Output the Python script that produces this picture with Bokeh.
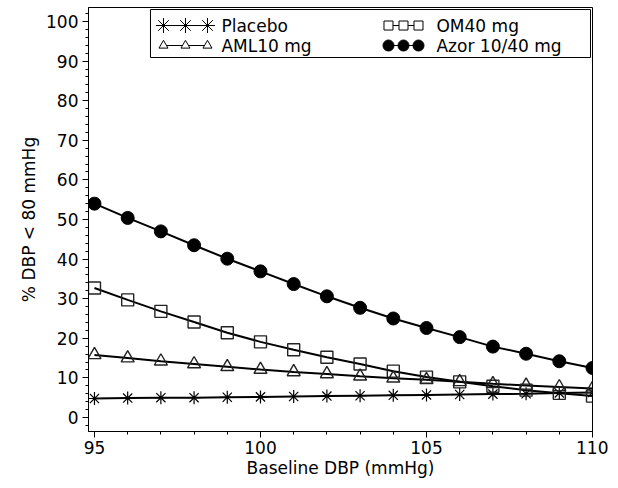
from bokeh.plotting import figure
from bokeh.models import Range1d, SingleIntervalTicker
from bokeh.embed import file_html
from bokeh.resources import INLINE
from bokeh.core.properties import value

# ---- data ----
baseline = [95, 96, 97, 98, 99, 100, 101, 102, 103, 104, 105, 106, 107, 108, 109, 110]
placebo = [4.8, 4.9, 5.0, 5.0, 5.1, 5.2, 5.3, 5.4, 5.5, 5.6, 5.7, 5.8, 5.9, 6.0, 6.2, 6.3]
om40 = [32.7, 29.7, 26.8, 24.1, 21.4, 19.1, 17.1, 15.2, 13.5, 11.7, 10.2, 9.0, 7.9, 6.9, 6.1, 5.4]
aml10 = [15.8, 15.0, 14.2, 13.5, 12.8, 12.1, 11.5, 11.0, 10.4, 9.9, 9.5, 9.0, 8.5, 8.1, 7.7, 7.3]
azor = [54.0, 50.4, 47.0, 43.5, 40.1, 36.9, 33.7, 30.6, 27.7, 25.0, 22.6, 20.3, 17.9, 16.1, 14.2, 12.5]
series_names = ["Placebo", "OM40 mg", "AML10 mg", "Azor 10/40 mg"]
x_label = "Baseline DBP (mmHg)"
y_label = "% DBP < 80 mmHg"

FONT = "DejaVu Sans"

p = figure(width=608, height=480, output_backend="svg", toolbar_location=None,
           x_range=Range1d(94.82, 110), y_range=Range1d(-3.54, 103.54),
           min_border_left=88, min_border_right=16, min_border_top=7,
           min_border_bottom=49)
p.grid.visible = False
p.outline_line_color = "black"
p.outline_line_width = 1
p.background_fill_color = "white"
p.border_fill_color = "white"

p.xaxis.ticker = SingleIntervalTicker(interval=5, num_minor_ticks=5)
p.yaxis.ticker = SingleIntervalTicker(interval=10, num_minor_ticks=5)
for ax in (p.xaxis[0], p.yaxis[0]):
    ax.major_tick_in = 0
    ax.major_tick_out = 6
    ax.minor_tick_in = 0
    ax.minor_tick_out = 3
    ax.axis_line_color = "black"
    ax.major_tick_line_color = "black"
    ax.minor_tick_line_color = "black"
    ax.major_label_text_font = FONT
    ax.major_label_text_font_size = "17px"
    ax.major_label_text_color = "black"
    ax.axis_label_text_font = FONT
    ax.axis_label_text_font_size = "17px"
    ax.axis_label_text_font_style = "normal"
    ax.axis_label_text_color = "black"
p.xaxis.axis_label = x_label
p.yaxis.axis_label = y_label
p.xaxis.major_label_standoff = 3
p.xaxis.axis_label_standoff = 1
p.yaxis.major_label_standoff = 4
p.yaxis.axis_label_standoff = 4

# ---- series ----
LW = 2
p.line(baseline, placebo, line_color="black", line_width=LW)
p.line(baseline, om40, line_color="black", line_width=LW)
p.line(baseline, aml10, line_color="black", line_width=LW)
p.line(baseline, azor, line_color="black", line_width=LW)

p.scatter(baseline, placebo, marker="asterisk", size=13, line_color="black", line_width=1.2)
p.scatter(baseline, om40, marker="square", size=12, fill_color=None, line_color="#222222", line_width=1.4)
p.scatter(baseline, aml10, marker="triangle", size=13, fill_color=None, line_color="#222222", line_width=1.4)
p.scatter(baseline, azor, marker="circle", size=13, fill_color="black", line_color="black")

# ---- legend (drawn inside plot, positions given in screen pixels) ----
X0, XPX0, XS = 95.0, 94.0, 33.2
YPX0, YS = 417.0, 3.96
def dx(px):
    return X0 + (px - XPX0) / XS
def dy(py):
    return (YPX0 - py) / YS

p.quad(left=[dx(150)], right=[dx(590)], top=[dy(9)], bottom=[dy(57)],
       fill_color="white", line_color="black", line_width=1)

row1, row2 = dy(25), dy(45)
lcol = [dx(163), dx(185), dx(207)]
rcol = [dx(388), dx(403), dx(418)]

p.line([lcol[0], lcol[-1]], [row1, row1], line_color="black", line_width=1)
p.scatter(lcol, [row1] * 3, marker="asterisk", size=15, line_color="black", line_width=1)
p.line([lcol[0], lcol[-1]], [row2, row2], line_color="black", line_width=1)
p.scatter(lcol, [row2] * 3, marker="triangle", size=9, fill_color="white", line_color="black", line_width=1)
p.line([rcol[0], rcol[-1]], [row1, row1], line_color="black", line_width=1)
p.scatter(rcol, [row1] * 3, marker="square", size=9, fill_color="white", line_color="black", line_width=1)
p.line([rcol[0], rcol[-1]], [row2, row2], line_color="black", line_width=1)
p.scatter(rcol, [row2] * 3, marker="circle", size=11, fill_color="black", line_color="black")

p.text(x=[dx(221), dx(436), dx(221), dx(436)], y=[row1, row1, row2, row2],
       text=series_names,
       text_font=value(FONT), text_font_size="17px", text_baseline="middle",
       text_align="left", text_color="black")

open("out.html", "w").write(file_html(p, INLINE))
